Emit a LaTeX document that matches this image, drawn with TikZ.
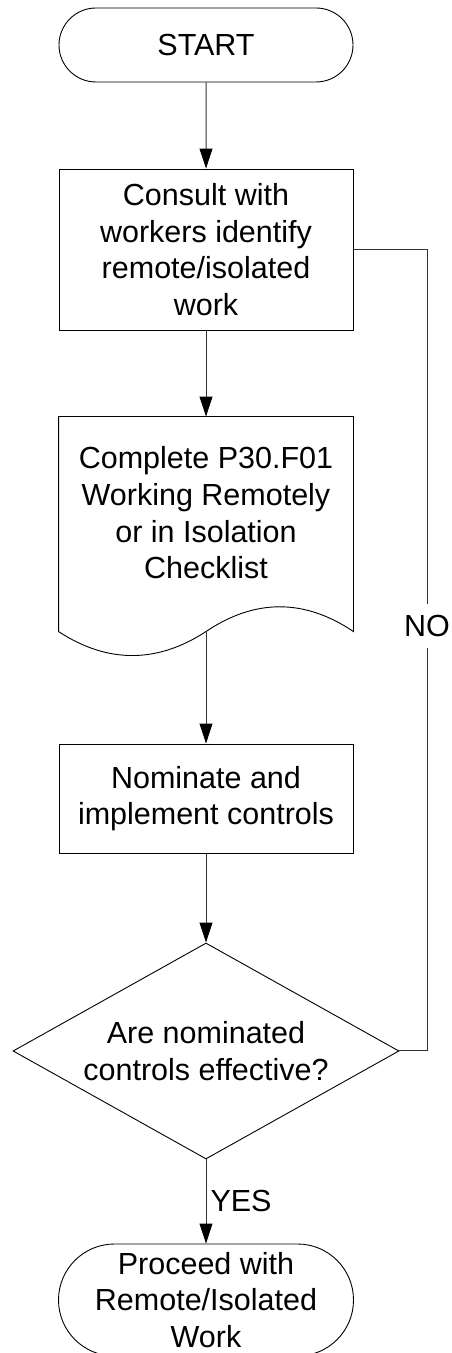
\documentclass[tikz,border=0pt]{standalone}
\usepackage{fontspec}
\setmainfont{Liberation Sans}
\usetikzlibrary{shapes,arrows.meta}

\begin{document}
\begin{tikzpicture}[x=1pt, y=1pt,
    font=\fontsize{30.5pt}{36.7pt}\selectfont,
    terminal/.style={draw, rounded rectangle, minimum width=294pt, inner sep=0pt, align=center, line width=0.9pt},
    process/.style={draw, rectangle, minimum width=294pt, inner sep=0pt, align=center, line width=0.9pt},
    decision/.style={draw, diamond, aspect=1.79, minimum width=386pt, minimum height=216pt, inner sep=0pt, align=center, line width=0.9pt},
    flow/.style={draw=black!80, line width=1pt, -{Triangle[length=20pt, width=13pt, color=black]}},
    link/.style={draw=black!80, line width=1pt},
    answer/.style={inner xsep=2pt, inner ysep=11pt}
]
    \useasboundingbox (0,0) rectangle (451,1353);

    % Steps
    \node[terminal, minimum height=74pt] (start) at (206,1308) {START};
    \node[process, minimum height=161pt] (consult) at (206,1103.5) {Consult with\\workers identify\\remote/isolated\\work};
    \node[process, draw=none, minimum height=192pt] (checklist) at (206,840) {Complete P30.F01\\Working Remotely\\or in Isolation\\Checklist};
    \node[process, minimum height=109pt] (controls) at (206,554.5) {Nominate and\\implement controls};
    \node[decision] (check) at (206,302) {Are nominated\\controls effective?};
    \node[terminal, minimum width=295pt, minimum height=112pt] (finish) at (206,53) {Proceed with\\Remote/Isolated\\Work};

    % Document outline with wavy bottom
    \coordinate (docmid) at ([yshift=-215pt]checklist.north);
    \draw[line width=0.9pt] (checklist.north west) -- (checklist.north east) -- ([yshift=-215pt]checklist.north east)
        .. controls +(-49,33) and +(49,33) .. (docmid)
        .. controls +(-49,-32) and +(49,-32) .. ([yshift=-215pt]checklist.north west) -- cycle;

    % Connectors
    \coordinate (noturn) at (427,302);
    \draw[flow] (start) -- (consult);
    \draw[flow] (consult) -- (checklist.north);
    \draw[flow] (docmid) -- (controls);
    \draw[flow] (controls) -- (check);
    \draw[flow] (check) -- node[right, inner sep=4pt] {YES} (finish);
    \draw[link] (consult.east) -- (consult.east -| noturn)
        -- node[pos=0.47, fill=white, answer] {NO} (noturn) -- (check.east);
\end{tikzpicture}
\end{document}
